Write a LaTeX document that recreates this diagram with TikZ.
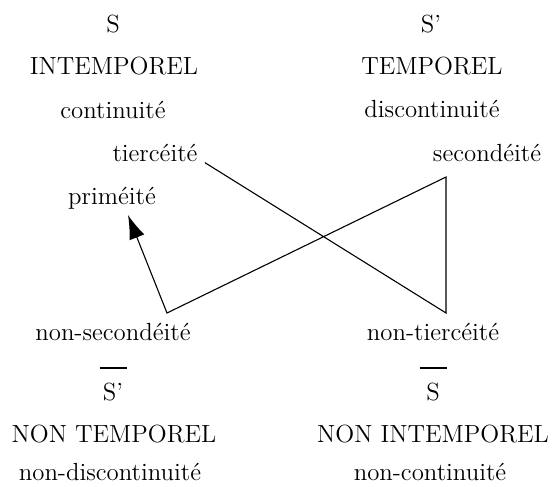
\documentclass[tikz,border=0pt]{standalone}
\usepackage{tikz}
\usetikzlibrary{arrows.meta,positioning}

\begin{document}
\begin{tikzpicture}[x=0.5pt,y=-0.5pt,
    every node/.style={font=\fontsize{12.4}{14}\selectfont,inner sep=1pt,anchor=base},
    bar/.style={inner sep=0pt,anchor=center},
    link/.style={line width=0.55pt}]
  \useasboundingbox (0,0) rectangle (555,486);
  % upper left: S
  \node (s)      at (113,33)  {S};
  \node (intemp) at (114,75)  {INTEMPOREL};
  \node (cont)   at (113,119) {continuité};
  \node (tier)   at (155,162) {tiercéité};
  \node (prim)   at (112,204) {priméité};
  % upper right: S'
  \node (sp)     at (431,33)  {S'};
  \node (temp)   at (432,75)  {TEMPOREL};
  \node (discont) at (432,118) {discontinuité};
  \node (second) at (487,162) {secondéité};
  % lower left: non S'
  \node (nsecond) at (113,340) {non-secondéité};
  \node[bar] (barsp) at (113,368) {\rule{13.5pt}{0.55pt}};
  \node (nsp)    at (113,400) {S'};
  \node (ntemp)  at (114,442) {NON TEMPOREL};
  \node (ndiscont) at (110,480) {non-discontinuité};
  % lower right: non S
  \node (ntier)  at (433,340) {non-tiercéité};
  \node[bar] (bars) at (433,368) {\rule{13.5pt}{0.55pt}};
  \node (ns)     at (433,400) {S};
  \node (nintemp) at (433,442) {NON INTEMPOREL};
  \node (ncont)  at (430,480) {non-continuité};
  % the loop
  \coordinate (br) at (446,313);
  \coordinate (tr) at (446,177);
  \coordinate (bl) at (167,313);
  \coordinate (tip) at (128,215);
  \draw[link,-{Latex[length=12pt,width=8pt]}]
    ([shift={(5,-2)}]tier.south east) -- (br) -- (tr) -- (bl) -- (tip);
\end{tikzpicture}
\end{document}
